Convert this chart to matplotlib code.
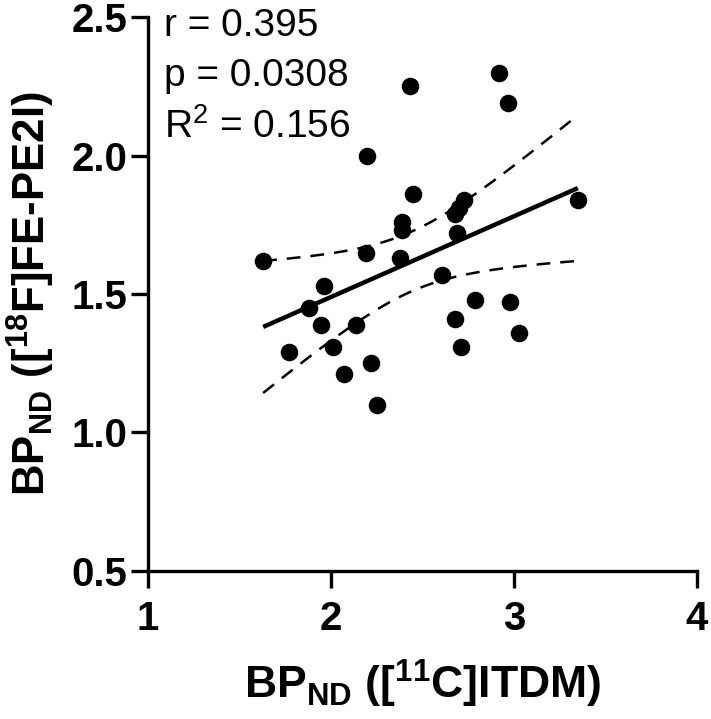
import numpy as np
import matplotlib
matplotlib.use('Agg')
import matplotlib.pyplot as plt

# BP_ND values (n = 30)
itdm = [1.63, 1.77, 1.88, 1.96, 1.945, 2.01, 2.07, 2.14, 2.19, 2.20,
        2.22, 2.25, 2.38, 2.39, 2.39, 2.43, 2.45, 2.61, 2.69, 2.68,
        2.70, 2.73, 2.68, 2.71, 2.79, 2.98, 3.03, 2.92, 2.97, 3.35]
fepe2i = [1.62, 1.29, 1.45, 1.53, 1.39, 1.31, 1.21, 1.39, 1.65, 2.00,
          1.25, 1.10, 1.63, 1.76, 1.73, 2.25, 1.86, 1.57, 1.72, 1.79,
          1.81, 1.84, 1.41, 1.31, 1.48, 1.47, 1.36, 2.30, 2.19, 1.84]
stats_txt = ['r = 0.395', 'p = 0.0308', 'R$^2$ = 0.156']
xticks = [1, 2, 3, 4]
yticks = [0.5, 1.0, 1.5, 2.0, 2.5]

plt.rcParams['font.family'] = 'Liberation Sans'
plt.rcParams['mathtext.default'] = 'regular'

x = np.array(itdm)
y = np.array(fepe2i)
n = len(x)
slope, icpt = np.polyfit(x, y, 1)
xs = np.linspace(x.min(), x.max(), 100)
fit = slope * xs + icpt
resid = y - (slope * x + icpt)
s = np.sqrt(np.sum(resid ** 2) / (n - 2))
tcrit = 2.048  # t(0.975, df=28)
se = s * np.sqrt(1.0 / n + (xs - x.mean()) ** 2 / np.sum((x - x.mean()) ** 2))

fig = plt.figure(figsize=(7.11, 7.19), dpi=100)
ax = fig.add_axes([0.208, 0.206, 0.772, 0.770])

ax.plot(xs, fit, color='black', lw=3.2, solid_capstyle='butt')
ax.plot(xs, fit + tcrit * se, color='black', lw=1.8, dashes=(5.5, 4))
ax.plot(xs, fit - tcrit * se, color='black', lw=1.8, dashes=(5.5, 4))
ax.scatter(x, y, s=135, color='black', zorder=3, clip_on=False)

ax.set_xlim(1, 4)
ax.set_ylim(0.5, 2.5)
ax.set_xticks(xticks)
ax.set_yticks(yticks)
ax.set_xticklabels([str(t) for t in xticks])
ax.set_yticklabels(['%.1f' % t for t in yticks])

for side in ['top', 'right']:
    ax.spines[side].set_visible(False)
for side in ['left', 'bottom']:
    ax.spines[side].set_linewidth(2.4)
ax.tick_params(width=2.4, length=12, labelsize=29)
ax.tick_params(axis='x', pad=9)
ax.tick_params(axis='y', pad=3)
for lab in ax.get_xticklabels() + ax.get_yticklabels():
    lab.set_fontweight('bold')

ax.set_xlabel('BP$_{ND}$ ([$^{11}$C]ITDM)', fontsize=32, fontweight='bold', labelpad=14)
ax.set_ylabel('BP$_{ND}$ ([$^{18}$F]FE-PE2I)', fontsize=31.5, fontweight='bold', labelpad=10)

for i, t in enumerate(stats_txt):
    ax.text(0.03, 0.985 - i * 0.092, t, transform=ax.transAxes, fontsize=28,
            va='center', ha='left')

fig.savefig('out.png', dpi=100)
